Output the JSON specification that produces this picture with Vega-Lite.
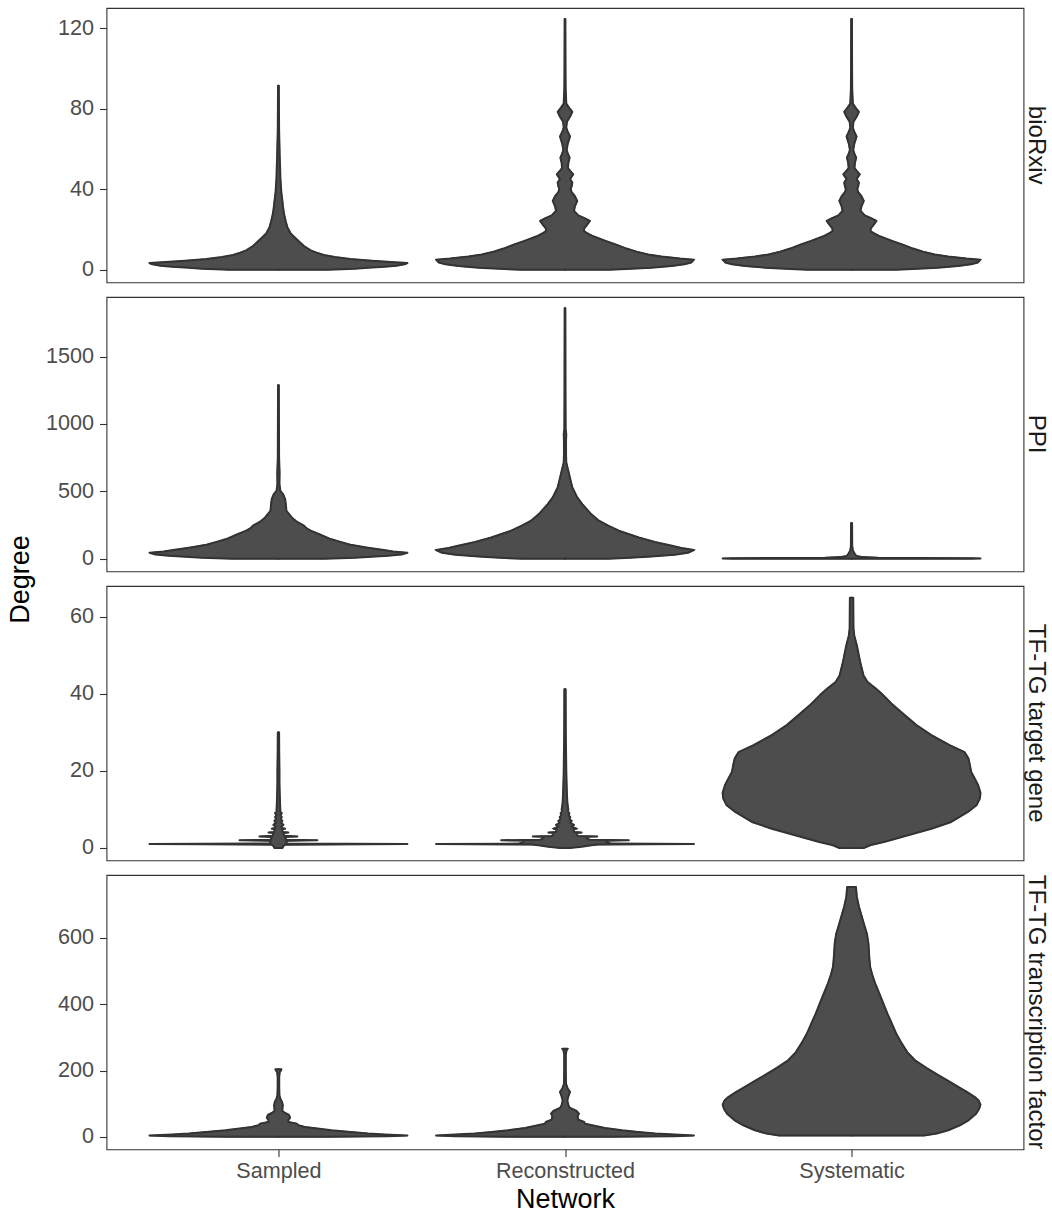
{
  "$schema": "https://vega.github.io/schema/vega-lite/v6.json",
  "background": "white",
  "padding": {"left": 5.5, "top": 7, "right": 2, "bottom": 0},
  "spacing": 14,
  "bounds": "flush",
  "config": {
    "font": "Liberation Sans",
    "view": {"stroke": "#333333", "strokeWidth": 1.1},
    "axis": {"domain": false, "grid": false, "tickColor": "#333333", "tickWidth": 1.1, "tickSize": 7, "labelFont": "Liberation Sans", "labelFontSize": 21.6, "labelColor": "#4d4d4d", "labelPadding": 6, "titleFont": "Liberation Sans", "titleFontSize": 27, "titleColor": "#000000", "titleFontWeight": "normal"},
    "axisX": {"labelPadding": 4, "titlePadding": 4, "labelAngle": 0},
    "axisY": {"format": "d"},
    "title": {"font": "Liberation Sans", "fontSize": 24, "fontWeight": "normal", "color": "#1a1a1a"}
  },
  "datasets": {
    "bioRxiv": [
      {"network":"Sampled","degree":0,"width":0},{"network":"Sampled","degree":0,"width":0.387},{"network":"Sampled","degree":0.5,"width":0.593},{"network":"Sampled","degree":1,"width":0.696},{"network":"Sampled","degree":1.5,"width":0.825},{"network":"Sampled","degree":2,"width":0.915},{"network":"Sampled","degree":2.7,"width":0.979},{"network":"Sampled","degree":3.3,"width":1.0},{"network":"Sampled","degree":3.8,"width":0.876},{"network":"Sampled","degree":4.5,"width":0.722},{"network":"Sampled","degree":5.3,"width":0.559},{"network":"Sampled","degree":6.3,"width":0.438},{"network":"Sampled","degree":7.3,"width":0.353},{"network":"Sampled","degree":8.5,"width":0.296},{"network":"Sampled","degree":9.6,"width":0.25},{"network":"Sampled","degree":11.8,"width":0.198},{"network":"Sampled","degree":13.5,"width":0.168},{"network":"Sampled","degree":15.9,"width":0.129},{"network":"Sampled","degree":18,"width":0.095},{"network":"Sampled","degree":21,"width":0.07},{"network":"Sampled","degree":24,"width":0.057},{"network":"Sampled","degree":27.5,"width":0.044},{"network":"Sampled","degree":31,"width":0.036},{"network":"Sampled","degree":34,"width":0.031},{"network":"Sampled","degree":38,"width":0.023},{"network":"Sampled","degree":42.5,"width":0.018},{"network":"Sampled","degree":46,"width":0.015},{"network":"Sampled","degree":50.7,"width":0.013},{"network":"Sampled","degree":56,"width":0.01},{"network":"Sampled","degree":62,"width":0.008},{"network":"Sampled","degree":70,"width":0.005},{"network":"Sampled","degree":80,"width":0.004},{"network":"Sampled","degree":91.4,"width":0.003},{"network":"Sampled","degree":91.4,"width":0},
      {"network":"Reconstructed","degree":0,"width":0},{"network":"Reconstructed","degree":0,"width":0.348},{"network":"Reconstructed","degree":0.5,"width":0.515},{"network":"Reconstructed","degree":1,"width":0.67},{"network":"Reconstructed","degree":1.8,"width":0.825},{"network":"Reconstructed","degree":2.7,"width":0.928},{"network":"Reconstructed","degree":3.6,"width":0.979},{"network":"Reconstructed","degree":5,"width":1.0},{"network":"Reconstructed","degree":5.6,"width":0.889},{"network":"Reconstructed","degree":6.6,"width":0.747},{"network":"Reconstructed","degree":7.6,"width":0.644},{"network":"Reconstructed","degree":9,"width":0.554},{"network":"Reconstructed","degree":10.5,"width":0.477},{"network":"Reconstructed","degree":12.6,"width":0.392},{"network":"Reconstructed","degree":14.3,"width":0.314},{"network":"Reconstructed","degree":16.6,"width":0.219},{"network":"Reconstructed","degree":18.3,"width":0.168},{"network":"Reconstructed","degree":19.2,"width":0.147},{"network":"Reconstructed","degree":20.5,"width":0.149},{"network":"Reconstructed","degree":22,"width":0.168},{"network":"Reconstructed","degree":24.2,"width":0.193},{"network":"Reconstructed","degree":25.5,"width":0.155},{"network":"Reconstructed","degree":27,"width":0.103},{"network":"Reconstructed","degree":29.2,"width":0.07},{"network":"Reconstructed","degree":31.5,"width":0.077},{"network":"Reconstructed","degree":34.2,"width":0.095},{"network":"Reconstructed","degree":36.5,"width":0.077},{"network":"Reconstructed","degree":38.5,"width":0.052},{"network":"Reconstructed","degree":40,"width":0.044},{"network":"Reconstructed","degree":41.5,"width":0.052},{"network":"Reconstructed","degree":43.3,"width":0.057},{"network":"Reconstructed","degree":45,"width":0.039},{"network":"Reconstructed","degree":47.4,"width":0.064},{"network":"Reconstructed","degree":49.2,"width":0.039},{"network":"Reconstructed","degree":50.5,"width":0.023},{"network":"Reconstructed","degree":53,"width":0.026},{"network":"Reconstructed","degree":55.7,"width":0.036},{"network":"Reconstructed","degree":57.5,"width":0.023},{"network":"Reconstructed","degree":59.5,"width":0.013},{"network":"Reconstructed","degree":62.5,"width":0.021},{"network":"Reconstructed","degree":66.2,"width":0.039},{"network":"Reconstructed","degree":68.5,"width":0.021},{"network":"Reconstructed","degree":70.6,"width":0.01},{"network":"Reconstructed","degree":73.5,"width":0.015},{"network":"Reconstructed","degree":76,"width":0.039},{"network":"Reconstructed","degree":78.4,"width":0.057},{"network":"Reconstructed","degree":80.5,"width":0.031},{"network":"Reconstructed","degree":82.5,"width":0.01},{"network":"Reconstructed","degree":90,"width":0.005},{"network":"Reconstructed","degree":100,"width":0.004},{"network":"Reconstructed","degree":124.5,"width":0.003},{"network":"Reconstructed","degree":124.5,"width":0},
      {"network":"Systematic","degree":0,"width":0},{"network":"Systematic","degree":0,"width":0.348},{"network":"Systematic","degree":0.5,"width":0.515},{"network":"Systematic","degree":1,"width":0.67},{"network":"Systematic","degree":1.8,"width":0.825},{"network":"Systematic","degree":2.7,"width":0.928},{"network":"Systematic","degree":3.6,"width":0.979},{"network":"Systematic","degree":5,"width":1.0},{"network":"Systematic","degree":5.6,"width":0.889},{"network":"Systematic","degree":6.6,"width":0.747},{"network":"Systematic","degree":7.6,"width":0.644},{"network":"Systematic","degree":9,"width":0.554},{"network":"Systematic","degree":10.5,"width":0.477},{"network":"Systematic","degree":12.6,"width":0.392},{"network":"Systematic","degree":14.3,"width":0.314},{"network":"Systematic","degree":16.6,"width":0.219},{"network":"Systematic","degree":18.3,"width":0.168},{"network":"Systematic","degree":19.2,"width":0.147},{"network":"Systematic","degree":20.5,"width":0.149},{"network":"Systematic","degree":22,"width":0.168},{"network":"Systematic","degree":24.2,"width":0.193},{"network":"Systematic","degree":25.5,"width":0.155},{"network":"Systematic","degree":27,"width":0.103},{"network":"Systematic","degree":29.2,"width":0.07},{"network":"Systematic","degree":31.5,"width":0.077},{"network":"Systematic","degree":34.2,"width":0.095},{"network":"Systematic","degree":36.5,"width":0.077},{"network":"Systematic","degree":38.5,"width":0.052},{"network":"Systematic","degree":40,"width":0.044},{"network":"Systematic","degree":41.5,"width":0.052},{"network":"Systematic","degree":43.3,"width":0.057},{"network":"Systematic","degree":45,"width":0.039},{"network":"Systematic","degree":47.4,"width":0.064},{"network":"Systematic","degree":49.2,"width":0.039},{"network":"Systematic","degree":50.5,"width":0.023},{"network":"Systematic","degree":53,"width":0.026},{"network":"Systematic","degree":55.7,"width":0.036},{"network":"Systematic","degree":57.5,"width":0.023},{"network":"Systematic","degree":59.5,"width":0.013},{"network":"Systematic","degree":62.5,"width":0.021},{"network":"Systematic","degree":66.2,"width":0.039},{"network":"Systematic","degree":68.5,"width":0.021},{"network":"Systematic","degree":70.6,"width":0.01},{"network":"Systematic","degree":73.5,"width":0.015},{"network":"Systematic","degree":76,"width":0.039},{"network":"Systematic","degree":78.4,"width":0.057},{"network":"Systematic","degree":80.5,"width":0.031},{"network":"Systematic","degree":82.5,"width":0.01},{"network":"Systematic","degree":90,"width":0.005},{"network":"Systematic","degree":100,"width":0.004},{"network":"Systematic","degree":124.5,"width":0.003},{"network":"Systematic","degree":124.5,"width":0}
    ],
    "PPI": [
      {"network":"Sampled","degree":0,"width":0},{"network":"Sampled","degree":0,"width":0.361},{"network":"Sampled","degree":7.4,"width":0.593},{"network":"Sampled","degree":15,"width":0.722},{"network":"Sampled","degree":22,"width":0.851},{"network":"Sampled","degree":32,"width":0.954},{"network":"Sampled","degree":44.5,"width":1.0},{"network":"Sampled","degree":54,"width":0.889},{"network":"Sampled","degree":64,"width":0.817},{"network":"Sampled","degree":84,"width":0.68},{"network":"Sampled","degree":104,"width":0.559},{"network":"Sampled","degree":125,"width":0.48},{"network":"Sampled","degree":146,"width":0.405},{"network":"Sampled","degree":180,"width":0.322},{"network":"Sampled","degree":208,"width":0.25},{"network":"Sampled","degree":225,"width":0.219},{"network":"Sampled","degree":245,"width":0.198},{"network":"Sampled","degree":275,"width":0.142},{"network":"Sampled","degree":306,"width":0.103},{"network":"Sampled","degree":356,"width":0.062},{"network":"Sampled","degree":405,"width":0.057},{"network":"Sampled","degree":442,"width":0.052},{"network":"Sampled","degree":479,"width":0.036},{"network":"Sampled","degree":504,"width":0.015},{"network":"Sampled","degree":553,"width":0.008},{"network":"Sampled","degree":640,"width":0.009},{"network":"Sampled","degree":751,"width":0.005},{"network":"Sampled","degree":1000,"width":0.004},{"network":"Sampled","degree":1287,"width":0.003},{"network":"Sampled","degree":1287,"width":0},
      {"network":"Reconstructed","degree":0,"width":0},{"network":"Reconstructed","degree":0,"width":0.335},{"network":"Reconstructed","degree":5,"width":0.464},{"network":"Reconstructed","degree":15,"width":0.644},{"network":"Reconstructed","degree":30,"width":0.851},{"network":"Reconstructed","degree":44.5,"width":0.954},{"network":"Reconstructed","degree":64,"width":1.0},{"network":"Reconstructed","degree":80,"width":0.902},{"network":"Reconstructed","degree":96,"width":0.83},{"network":"Reconstructed","degree":125,"width":0.696},{"network":"Reconstructed","degree":158,"width":0.572},{"network":"Reconstructed","degree":208,"width":0.418},{"network":"Reconstructed","degree":245,"width":0.335},{"network":"Reconstructed","degree":282,"width":0.263},{"network":"Reconstructed","degree":336,"width":0.198},{"network":"Reconstructed","degree":405,"width":0.134},{"network":"Reconstructed","degree":455,"width":0.095},{"network":"Reconstructed","degree":529,"width":0.057},{"network":"Reconstructed","degree":578,"width":0.044},{"network":"Reconstructed","degree":652,"width":0.026},{"network":"Reconstructed","degree":714,"width":0.01},{"network":"Reconstructed","degree":776,"width":0.008},{"network":"Reconstructed","degree":880,"width":0.008},{"network":"Reconstructed","degree":924,"width":0.01},{"network":"Reconstructed","degree":960,"width":0.005},{"network":"Reconstructed","degree":1200,"width":0.004},{"network":"Reconstructed","degree":1858,"width":0.003},{"network":"Reconstructed","degree":1858,"width":0},
      {"network":"Systematic","degree":0,"width":0},{"network":"Systematic","degree":0,"width":0.928},{"network":"Systematic","degree":2,"width":1.0},{"network":"Systematic","degree":4,"width":0.928},{"network":"Systematic","degree":6,"width":0.515},{"network":"Systematic","degree":8,"width":0.206},{"network":"Systematic","degree":12,"width":0.09},{"network":"Systematic","degree":20,"width":0.039},{"network":"Systematic","degree":35,"width":0.026},{"network":"Systematic","degree":60,"width":0.01},{"network":"Systematic","degree":100,"width":0.005},{"network":"Systematic","degree":264,"width":0.004},{"network":"Systematic","degree":264,"width":0}
    ],
    "TFTG_target": [
      {"network":"Sampled","degree":0,"width":0},{"network":"Sampled","degree":0,"width":0.031},{"network":"Sampled","degree":0.5,"width":0.039},{"network":"Sampled","degree":0.85,"width":0.052},{"network":"Sampled","degree":1,"width":1.0},{"network":"Sampled","degree":1.15,"width":0.064},{"network":"Sampled","degree":1.5,"width":0.064},{"network":"Sampled","degree":1.85,"width":0.064},{"network":"Sampled","degree":2,"width":0.302},{"network":"Sampled","degree":2.15,"width":0.057},{"network":"Sampled","degree":2.5,"width":0.057},{"network":"Sampled","degree":2.85,"width":0.052},{"network":"Sampled","degree":3,"width":0.147},{"network":"Sampled","degree":3.15,"width":0.046},{"network":"Sampled","degree":3.5,"width":0.041},{"network":"Sampled","degree":3.85,"width":0.039},{"network":"Sampled","degree":4,"width":0.077},{"network":"Sampled","degree":4.15,"width":0.034},{"network":"Sampled","degree":4.5,"width":0.031},{"network":"Sampled","degree":4.85,"width":0.028},{"network":"Sampled","degree":5,"width":0.052},{"network":"Sampled","degree":5.15,"width":0.026},{"network":"Sampled","degree":5.5,"width":0.023},{"network":"Sampled","degree":6,"width":0.039},{"network":"Sampled","degree":6.5,"width":0.021},{"network":"Sampled","degree":7,"width":0.031},{"network":"Sampled","degree":7.5,"width":0.018},{"network":"Sampled","degree":8,"width":0.026},{"network":"Sampled","degree":8.5,"width":0.015},{"network":"Sampled","degree":9,"width":0.026},{"network":"Sampled","degree":9.5,"width":0.013},{"network":"Sampled","degree":10,"width":0.015},{"network":"Sampled","degree":11,"width":0.013},{"network":"Sampled","degree":12,"width":0.012},{"network":"Sampled","degree":14,"width":0.01},{"network":"Sampled","degree":17,"width":0.008},{"network":"Sampled","degree":20,"width":0.008},{"network":"Sampled","degree":25,"width":0.006},{"network":"Sampled","degree":30,"width":0.005},{"network":"Sampled","degree":30,"width":0},
      {"network":"Reconstructed","degree":0,"width":0},{"network":"Reconstructed","degree":0,"width":0.039},{"network":"Reconstructed","degree":0.3,"width":0.129},{"network":"Reconstructed","degree":0.7,"width":0.206},{"network":"Reconstructed","degree":0.88,"width":0.258},{"network":"Reconstructed","degree":1,"width":1.0},{"network":"Reconstructed","degree":1.12,"width":0.361},{"network":"Reconstructed","degree":1.5,"width":0.322},{"network":"Reconstructed","degree":1.88,"width":0.335},{"network":"Reconstructed","degree":2,"width":0.495},{"network":"Reconstructed","degree":2.12,"width":0.193},{"network":"Reconstructed","degree":2.5,"width":0.168},{"network":"Reconstructed","degree":2.88,"width":0.168},{"network":"Reconstructed","degree":3,"width":0.25},{"network":"Reconstructed","degree":3.12,"width":0.103},{"network":"Reconstructed","degree":3.5,"width":0.09},{"network":"Reconstructed","degree":3.88,"width":0.09},{"network":"Reconstructed","degree":4,"width":0.129},{"network":"Reconstructed","degree":4.15,"width":0.072},{"network":"Reconstructed","degree":4.5,"width":0.067},{"network":"Reconstructed","degree":4.85,"width":0.067},{"network":"Reconstructed","degree":5,"width":0.09},{"network":"Reconstructed","degree":5.5,"width":0.052},{"network":"Reconstructed","degree":6,"width":0.07},{"network":"Reconstructed","degree":6.5,"width":0.041},{"network":"Reconstructed","degree":7,"width":0.052},{"network":"Reconstructed","degree":7.5,"width":0.034},{"network":"Reconstructed","degree":8,"width":0.041},{"network":"Reconstructed","degree":8.5,"width":0.028},{"network":"Reconstructed","degree":9,"width":0.034},{"network":"Reconstructed","degree":9.5,"width":0.023},{"network":"Reconstructed","degree":10,"width":0.026},{"network":"Reconstructed","degree":11,"width":0.021},{"network":"Reconstructed","degree":12,"width":0.018},{"network":"Reconstructed","degree":14,"width":0.015},{"network":"Reconstructed","degree":16,"width":0.013},{"network":"Reconstructed","degree":20,"width":0.01},{"network":"Reconstructed","degree":25,"width":0.008},{"network":"Reconstructed","degree":30,"width":0.006},{"network":"Reconstructed","degree":41.2,"width":0.005},{"network":"Reconstructed","degree":41.2,"width":0},
      {"network":"Systematic","degree":0,"width":0},{"network":"Systematic","degree":0,"width":0.098},{"network":"Systematic","degree":0.7,"width":0.144},{"network":"Systematic","degree":1.6,"width":0.258},{"network":"Systematic","degree":3.3,"width":0.438},{"network":"Systematic","degree":5,"width":0.619},{"network":"Systematic","degree":6.75,"width":0.773},{"network":"Systematic","degree":9.35,"width":0.902},{"network":"Systematic","degree":11.1,"width":0.969},{"network":"Systematic","degree":12.8,"width":0.995},{"network":"Systematic","degree":14.3,"width":1.0},{"network":"Systematic","degree":16.3,"width":0.982},{"network":"Systematic","degree":18,"width":0.956},{"network":"Systematic","degree":19.7,"width":0.928},{"network":"Systematic","degree":21.5,"width":0.918},{"network":"Systematic","degree":23.2,"width":0.907},{"network":"Systematic","degree":24.9,"width":0.876},{"network":"Systematic","degree":26.7,"width":0.76},{"network":"Systematic","degree":29.3,"width":0.619},{"network":"Systematic","degree":31.9,"width":0.503},{"network":"Systematic","degree":34.5,"width":0.412},{"network":"Systematic","degree":37.1,"width":0.322},{"network":"Systematic","degree":39.7,"width":0.245},{"network":"Systematic","degree":41.4,"width":0.188},{"network":"Systematic","degree":43.1,"width":0.124},{"network":"Systematic","degree":44.8,"width":0.093},{"network":"Systematic","degree":48.3,"width":0.067},{"network":"Systematic","degree":52.6,"width":0.041},{"network":"Systematic","degree":55.2,"width":0.021},{"network":"Systematic","degree":57,"width":0.015},{"network":"Systematic","degree":65,"width":0.013},{"network":"Systematic","degree":65,"width":0}
    ],
    "TFTG_tf": [
      {"network":"Sampled","degree":0,"width":0},{"network":"Sampled","degree":0,"width":0.387},{"network":"Sampled","degree":2,"width":0.851},{"network":"Sampled","degree":4,"width":1.0},{"network":"Sampled","degree":7,"width":0.825},{"network":"Sampled","degree":10,"width":0.696},{"network":"Sampled","degree":15,"width":0.559},{"network":"Sampled","degree":20,"width":0.412},{"network":"Sampled","degree":25,"width":0.302},{"network":"Sampled","degree":30,"width":0.206},{"network":"Sampled","degree":35,"width":0.155},{"network":"Sampled","degree":40,"width":0.142},{"network":"Sampled","degree":45,"width":0.077},{"network":"Sampled","degree":50,"width":0.077},{"network":"Sampled","degree":58,"width":0.09},{"network":"Sampled","degree":66,"width":0.082},{"network":"Sampled","degree":72,"width":0.052},{"network":"Sampled","degree":78,"width":0.031},{"network":"Sampled","degree":85,"width":0.031},{"network":"Sampled","degree":95,"width":0.034},{"network":"Sampled","degree":105,"width":0.028},{"network":"Sampled","degree":115,"width":0.015},{"network":"Sampled","degree":125,"width":0.008},{"network":"Sampled","degree":150,"width":0.006},{"network":"Sampled","degree":180,"width":0.006},{"network":"Sampled","degree":195,"width":0.01},{"network":"Sampled","degree":201,"width":0.021},{"network":"Sampled","degree":204,"width":0.023},{"network":"Sampled","degree":204,"width":0},
      {"network":"Reconstructed","degree":0,"width":0},{"network":"Reconstructed","degree":0,"width":0.361},{"network":"Reconstructed","degree":2,"width":0.851},{"network":"Reconstructed","degree":4,"width":1.0},{"network":"Reconstructed","degree":7,"width":0.851},{"network":"Reconstructed","degree":10,"width":0.701},{"network":"Reconstructed","degree":15,"width":0.567},{"network":"Reconstructed","degree":20,"width":0.443},{"network":"Reconstructed","degree":27,"width":0.309},{"network":"Reconstructed","degree":35,"width":0.211},{"network":"Reconstructed","degree":40,"width":0.155},{"network":"Reconstructed","degree":45,"width":0.149},{"network":"Reconstructed","degree":52,"width":0.103},{"network":"Reconstructed","degree":62,"width":0.098},{"network":"Reconstructed","degree":70,"width":0.108},{"network":"Reconstructed","degree":78,"width":0.09},{"network":"Reconstructed","degree":88,"width":0.036},{"network":"Reconstructed","degree":96,"width":0.026},{"network":"Reconstructed","degree":110,"width":0.018},{"network":"Reconstructed","degree":122,"width":0.026},{"network":"Reconstructed","degree":136,"width":0.039},{"network":"Reconstructed","degree":146,"width":0.021},{"network":"Reconstructed","degree":160,"width":0.008},{"network":"Reconstructed","degree":200,"width":0.006},{"network":"Reconstructed","degree":250,"width":0.006},{"network":"Reconstructed","degree":262,"width":0.013},{"network":"Reconstructed","degree":266,"width":0.021},{"network":"Reconstructed","degree":266,"width":0},
      {"network":"Systematic","degree":4,"width":0},{"network":"Systematic","degree":4,"width":0.562},{"network":"Systematic","degree":10,"width":0.66},{"network":"Systematic","degree":20,"width":0.75},{"network":"Systematic","degree":35,"width":0.84},{"network":"Systematic","degree":50,"width":0.907},{"network":"Systematic","degree":70,"width":0.966},{"network":"Systematic","degree":85,"width":0.99},{"network":"Systematic","degree":97.5,"width":1.0},{"network":"Systematic","degree":110,"width":0.985},{"network":"Systematic","degree":120,"width":0.956},{"network":"Systematic","degree":135,"width":0.897},{"network":"Systematic","degree":151,"width":0.827},{"network":"Systematic","degree":168,"width":0.753},{"network":"Systematic","degree":186,"width":0.673},{"network":"Systematic","degree":208,"width":0.58},{"network":"Systematic","degree":231,"width":0.492},{"network":"Systematic","degree":255,"width":0.433},{"network":"Systematic","degree":282,"width":0.389},{"network":"Systematic","degree":310,"width":0.348},{"network":"Systematic","degree":342,"width":0.312},{"network":"Systematic","degree":372,"width":0.278},{"network":"Systematic","degree":402,"width":0.247},{"network":"Systematic","degree":432,"width":0.216},{"network":"Systematic","degree":463,"width":0.183},{"network":"Systematic","degree":490,"width":0.16},{"network":"Systematic","degree":513,"width":0.144},{"network":"Systematic","degree":545,"width":0.137},{"network":"Systematic","degree":583,"width":0.131},{"network":"Systematic","degree":613,"width":0.119},{"network":"Systematic","degree":640,"width":0.098},{"network":"Systematic","degree":664,"width":0.08},{"network":"Systematic","degree":695,"width":0.057},{"network":"Systematic","degree":724,"width":0.041},{"network":"Systematic","degree":754,"width":0.034},{"network":"Systematic","degree":754,"width":0}
    ]
  },
  "vconcat": [
    {
      "data": {"name": "bioRxiv"},
      "width": 917, "height": 274.4,
      "title": {"text": "bioRxiv", "orient": "right", "anchor": "middle", "frame": "group", "offset": 0},
      "encoding": {
        "x": {"field": "network", "type": "nominal", "scale": {"type": "point", "padding": 0.6, "domain": ["Sampled", "Reconstructed", "Systematic"]}, "axis": null},
        "y": {"field": "degree", "type": "quantitative", "stack": null, "scale": {"domain": [-6.3, 130], "nice": false, "zero": false}, "axis": {"values": [0, 40, 80, 120], "title": null}},
        "detail": {"field": "network", "type": "nominal"},
        "order": {"value": null}
      },
      "layer": [
        {"mark": {"type": "area", "orient": "horizontal", "fill": "#4d4d4d", "stroke": "#4d4d4d", "strokeWidth": 1.2}, "encoding": {"x2": {"field": "network"}, "xOffset": {"field": "width", "type": "quantitative", "scale": {"domain": [0, 1], "range": [0, 128.95]}}}},
        {"mark": {"type": "area", "orient": "horizontal", "fill": "#4d4d4d", "stroke": "#4d4d4d", "strokeWidth": 1.2}, "encoding": {"x2": {"field": "network"}, "xOffset": {"field": "width", "type": "quantitative", "scale": {"domain": [0, 1], "range": [0, -128.95]}}}},
        {"mark": {"type": "line", "stroke": "#333333", "strokeWidth": 2, "strokeJoin": "round", "strokeCap": "round"}, "encoding": {"xOffset": {"field": "width", "type": "quantitative", "scale": {"domain": [0, 1], "range": [0, 128.95]}}}},
        {"mark": {"type": "line", "stroke": "#333333", "strokeWidth": 2, "strokeJoin": "round", "strokeCap": "round"}, "encoding": {"xOffset": {"field": "width", "type": "quantitative", "scale": {"domain": [0, 1], "range": [0, -128.95]}}}}
      ],
      "resolve": {"scale": {"xOffset": "independent"}}
    },
    {
      "data": {"name": "PPI"},
      "width": 917, "height": 274.4,
      "title": {"text": "PPI", "orient": "right", "anchor": "middle", "frame": "group", "offset": 0},
      "encoding": {
        "x": {"field": "network", "type": "nominal", "scale": {"type": "point", "padding": 0.6, "domain": ["Sampled", "Reconstructed", "Systematic"]}, "axis": null},
        "y": {"field": "degree", "type": "quantitative", "stack": null, "scale": {"domain": [-94, 1942], "nice": false, "zero": false}, "axis": {"values": [0, 500, 1000, 1500], "title": "Degree", "titleX": -78, "titleY": 282, "titleAngle": -90, "titleAlign": "center", "titleBaseline": "alphabetic"}},
        "detail": {"field": "network", "type": "nominal"},
        "order": {"value": null}
      },
      "layer": [
        {"mark": {"type": "area", "orient": "horizontal", "fill": "#4d4d4d", "stroke": "#4d4d4d", "strokeWidth": 1.2}, "encoding": {"x2": {"field": "network"}, "xOffset": {"field": "width", "type": "quantitative", "scale": {"domain": [0, 1], "range": [0, 128.95]}}}},
        {"mark": {"type": "area", "orient": "horizontal", "fill": "#4d4d4d", "stroke": "#4d4d4d", "strokeWidth": 1.2}, "encoding": {"x2": {"field": "network"}, "xOffset": {"field": "width", "type": "quantitative", "scale": {"domain": [0, 1], "range": [0, -128.95]}}}},
        {"mark": {"type": "line", "stroke": "#333333", "strokeWidth": 2, "strokeJoin": "round", "strokeCap": "round"}, "encoding": {"xOffset": {"field": "width", "type": "quantitative", "scale": {"domain": [0, 1], "range": [0, 128.95]}}}},
        {"mark": {"type": "line", "stroke": "#333333", "strokeWidth": 2, "strokeJoin": "round", "strokeCap": "round"}, "encoding": {"xOffset": {"field": "width", "type": "quantitative", "scale": {"domain": [0, 1], "range": [0, -128.95]}}}}
      ],
      "resolve": {"scale": {"xOffset": "independent"}}
    },
    {
      "data": {"name": "TFTG_target"},
      "width": 917, "height": 274.4,
      "title": {"text": "TF-TG target gene", "orient": "right", "anchor": "middle", "frame": "group", "offset": 0},
      "encoding": {
        "x": {"field": "network", "type": "nominal", "scale": {"type": "point", "padding": 0.6, "domain": ["Sampled", "Reconstructed", "Systematic"]}, "axis": null},
        "y": {"field": "degree", "type": "quantitative", "stack": null, "scale": {"domain": [-3.24, 68.04], "nice": false, "zero": false}, "axis": {"values": [0, 20, 40, 60], "title": null}},
        "detail": {"field": "network", "type": "nominal"},
        "order": {"value": null}
      },
      "layer": [
        {"mark": {"type": "area", "orient": "horizontal", "fill": "#4d4d4d", "stroke": "#4d4d4d", "strokeWidth": 1.2}, "encoding": {"x2": {"field": "network"}, "xOffset": {"field": "width", "type": "quantitative", "scale": {"domain": [0, 1], "range": [0, 128.95]}}}},
        {"mark": {"type": "area", "orient": "horizontal", "fill": "#4d4d4d", "stroke": "#4d4d4d", "strokeWidth": 1.2}, "encoding": {"x2": {"field": "network"}, "xOffset": {"field": "width", "type": "quantitative", "scale": {"domain": [0, 1], "range": [0, -128.95]}}}},
        {"mark": {"type": "line", "stroke": "#333333", "strokeWidth": 2, "strokeJoin": "round", "strokeCap": "round"}, "encoding": {"xOffset": {"field": "width", "type": "quantitative", "scale": {"domain": [0, 1], "range": [0, 128.95]}}}},
        {"mark": {"type": "line", "stroke": "#333333", "strokeWidth": 2, "strokeJoin": "round", "strokeCap": "round"}, "encoding": {"xOffset": {"field": "width", "type": "quantitative", "scale": {"domain": [0, 1], "range": [0, -128.95]}}}}
      ],
      "resolve": {"scale": {"xOffset": "independent"}}
    },
    {
      "data": {"name": "TFTG_tf"},
      "width": 917, "height": 274.4,
      "title": {"text": "TF-TG transcription factor", "orient": "right", "anchor": "middle", "frame": "group", "offset": 0},
      "encoding": {
        "x": {"field": "network", "type": "nominal", "scale": {"type": "point", "padding": 0.6, "domain": ["Sampled", "Reconstructed", "Systematic"]}, "axis": {"title": "Network"}},
        "y": {"field": "degree", "type": "quantitative", "stack": null, "scale": {"domain": [-37.8, 790], "nice": false, "zero": false}, "axis": {"values": [0, 200, 400, 600], "title": null}},
        "detail": {"field": "network", "type": "nominal"},
        "order": {"value": null}
      },
      "layer": [
        {"mark": {"type": "area", "orient": "horizontal", "fill": "#4d4d4d", "stroke": "#4d4d4d", "strokeWidth": 1.2}, "encoding": {"x2": {"field": "network"}, "xOffset": {"field": "width", "type": "quantitative", "scale": {"domain": [0, 1], "range": [0, 128.95]}}}},
        {"mark": {"type": "area", "orient": "horizontal", "fill": "#4d4d4d", "stroke": "#4d4d4d", "strokeWidth": 1.2}, "encoding": {"x2": {"field": "network"}, "xOffset": {"field": "width", "type": "quantitative", "scale": {"domain": [0, 1], "range": [0, -128.95]}}}},
        {"mark": {"type": "line", "stroke": "#333333", "strokeWidth": 2, "strokeJoin": "round", "strokeCap": "round"}, "encoding": {"xOffset": {"field": "width", "type": "quantitative", "scale": {"domain": [0, 1], "range": [0, 128.95]}}}},
        {"mark": {"type": "line", "stroke": "#333333", "strokeWidth": 2, "strokeJoin": "round", "strokeCap": "round"}, "encoding": {"xOffset": {"field": "width", "type": "quantitative", "scale": {"domain": [0, 1], "range": [0, -128.95]}}}}
      ],
      "resolve": {"scale": {"xOffset": "independent"}}
    }
  ]
}
